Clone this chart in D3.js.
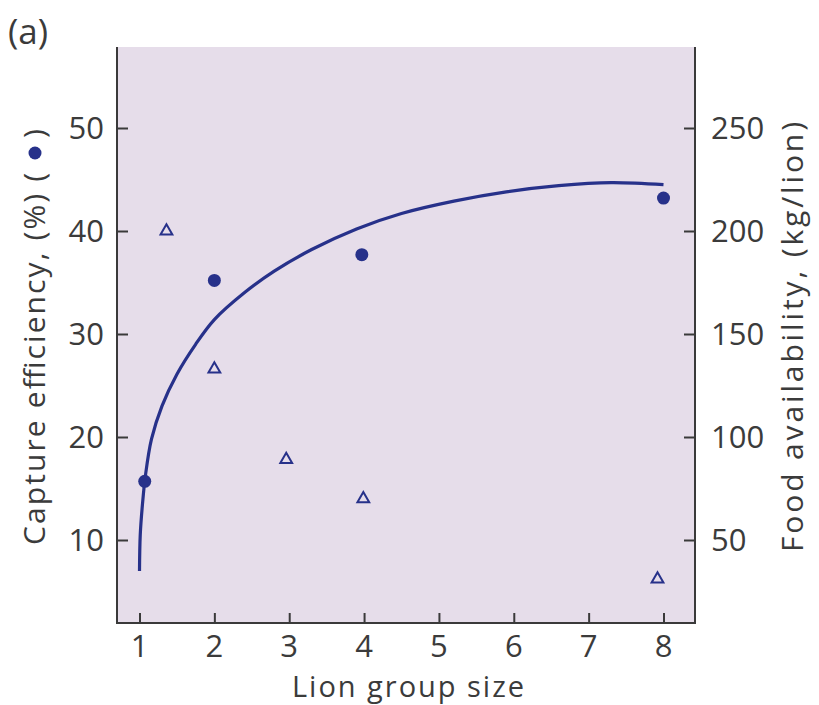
<!DOCTYPE html>
<html>
<head>
<meta charset="utf-8">
<script src="https://cdn.jsdelivr.net/npm/d3@7"></script>
<style>
  html, body { margin: 0; padding: 0; background: #ffffff; }
  svg { display: block; }
  text { font-family: "Open Sans", "Noto Sans", sans-serif; fill: #3b3b3b; }
</style>
</head>
<body>
<svg id="chart" width="819" height="705"></svg>
<script>
// Lion group size on the x axis
const xTicks = [1, 2, 3, 4, 5, 6, 7, 8];
const leftTicks = [10, 20, 30, 40, 50];
const rightTicks = [50, 100, 150, 200, 250];

// Capture efficiency (%) by group size (filled circles, left axis)
const captureSize = [1.07, 2.0, 3.97, 8.0];
const capturePct = [15.7, 35.2, 37.7, 43.2];

// Food availability (kg/lion) by group size (open triangles, right axis)
const foodSize = [1.36, 2.0, 2.96, 3.99, 7.92];
const foodKg = [200, 133, 89, 70, 31];

// Fitted capture-efficiency curve
const curveSize = [1.0, 1.01, 1.04, 1.08, 1.16, 1.3, 1.5, 1.75, 2.0, 2.4, 2.8, 3.3, 3.9, 4.5, 5.2, 5.9, 6.6, 7.3, 8.0];
const curvePct = [7.0, 10.5, 13.5, 16.3, 19.8, 23.0, 26.1, 29.0, 31.4, 34.0, 36.1, 38.2, 40.2, 41.7, 42.9, 43.8, 44.4, 44.7, 44.5];

const svg = d3.select("#chart");
const ink = "#27318a";
const axisInk = "#3a3a3a";

const frame = { left: 117, right: 695, top: 47, bottom: 623 };

const x = d3.scaleLinear().domain([1, 8]).range([139.5, 663.5]);
const yL = d3.scaleLinear().domain([10, 50]).range([540, 128]);
const yR = d3.scaleLinear().domain([50, 250]).range([540, 128]);

// plot background
svg.append("rect")
  .attr("x", frame.left).attr("y", frame.top)
  .attr("width", frame.right - frame.left).attr("height", frame.bottom - frame.top)
  .attr("fill", "#e6ddea");

const tickFont = 31;
const titleFont = 30;

// bottom axis (ticks point inward)
const gx = svg.append("g").attr("transform", `translate(0,${frame.bottom})`)
  .call(d3.axisTop(x).tickValues(xTicks).tickSize(10));
gx.select(".domain").remove();
gx.selectAll("text").remove();
gx.selectAll("line").attr("stroke", axisInk).attr("stroke-width", 2);
svg.append("g").selectAll("text").data(xTicks).join("text")
  .attr("x", d => x(d)).attr("y", frame.bottom + 34)
  .attr("text-anchor", "middle").attr("font-size", tickFont)
  .text(d => d);

// left axis
const gl = svg.append("g").attr("transform", `translate(${frame.left},0)`)
  .call(d3.axisRight(yL).tickValues(leftTicks).tickSize(11));
gl.select(".domain").remove();
gl.selectAll("text").remove();
gl.selectAll("line").attr("stroke", axisInk).attr("stroke-width", 2);
svg.append("g").selectAll("text").data(leftTicks).join("text")
  .attr("x", frame.left - 13).attr("y", d => yL(d)).attr("dy", "0.36em")
  .attr("text-anchor", "end").attr("font-size", tickFont)
  .text(d => d);

// right axis
const gr = svg.append("g").attr("transform", `translate(${frame.right},0)`)
  .call(d3.axisLeft(yR).tickValues(rightTicks).tickSize(11));
gr.select(".domain").remove();
gr.selectAll("text").remove();
gr.selectAll("line").attr("stroke", axisInk).attr("stroke-width", 2);
svg.append("g").selectAll("text").data(rightTicks).join("text")
  .attr("x", frame.right + 16).attr("y", d => yR(d)).attr("dy", "0.36em")
  .attr("text-anchor", "start").attr("font-size", tickFont)
  .text(d => d);

// frame lines: left, bottom, right
svg.append("path")
  .attr("d", `M${frame.left},${frame.top}V${frame.bottom}H${frame.right}V${frame.top}`)
  .attr("fill", "none").attr("stroke", axisInk).attr("stroke-width", 2);

// fitted curve
const curveData = curveSize.map((s, i) => [s, curvePct[i]]);
svg.append("path")
  .datum(curveData)
  .attr("d", d3.line().x(d => x(d[0])).y(d => yL(d[1])).curve(d3.curveCatmullRom.alpha(0.5)))
  .attr("fill", "none").attr("stroke", ink).attr("stroke-width", 3.2);

// capture efficiency points
svg.append("g").selectAll("circle")
  .data(captureSize.map((s, i) => [s, capturePct[i]]))
  .join("circle")
  .attr("cx", d => x(d[0])).attr("cy", d => yL(d[1])).attr("r", 6.5)
  .attr("fill", ink);

// food availability points
const tri = d3.symbol().type(d3.symbolTriangle).size(60);
svg.append("g").selectAll("path")
  .data(foodSize.map((s, i) => [s, foodKg[i]]))
  .join("path")
  .attr("transform", d => `translate(${x(d[0])},${yR(d[1])})`)
  .attr("d", tri)
  .attr("fill", "none").attr("stroke", ink).attr("stroke-width", 2);

// axis titles
svg.append("text")
  .attr("x", 408).attr("y", 697)
  .attr("text-anchor", "middle").attr("font-size", 29)
  .attr("textLength", 232).attr("lengthAdjust", "spacing")
  .text("Lion group size");

// left title with circle key
const leftTitle = svg.append("g").attr("transform", "translate(45,545) rotate(-90)");
leftTitle.append("text").attr("x", 0).attr("y", 0)
  .attr("font-size", titleFont)
  .attr("textLength", 372).attr("lengthAdjust", "spacing")
  .text("Capture efficiency, (%) (");
leftTitle.append("circle").attr("cx", 392).attr("cy", -10).attr("r", 6.5).attr("fill", ink);
leftTitle.append("text").attr("x", 407).attr("y", 0)
  .attr("font-size", titleFont).text(")");

svg.append("text")
  .attr("transform", "translate(803,337) rotate(-90)")
  .attr("text-anchor", "middle").attr("font-size", titleFont)
  .attr("textLength", 430).attr("lengthAdjust", "spacing")
  .text("Food availability, (kg/lion)");

// panel label
svg.append("text").attr("x", 8).attr("y", 44).attr("font-size", 35).text("(a)");
</script>
</body>
</html>
